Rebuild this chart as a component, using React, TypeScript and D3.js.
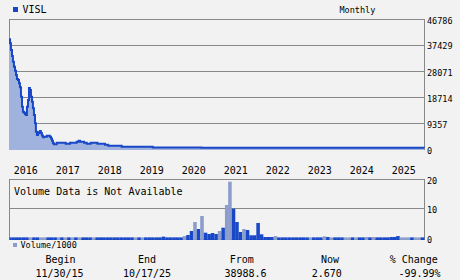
import React from 'react';
import * as d3 from 'd3';

// ---- data ----
const symbol = 'VISL';
const periodLabel = 'Monthly';
const startDateStr = '2015-11-30';
const endDateStr = '2025-10-17';

const priceDates = [
  '2015-11-30', '2015-12-09', '2015-12-17', '2015-12-26', '2016-01-03', '2016-01-12',
  '2016-01-21', '2016-01-30', '2016-02-07', '2016-02-16', '2016-02-25', '2016-03-04',
  '2016-03-13', '2016-03-22', '2016-03-30', '2016-04-08', '2016-04-17', '2016-04-25',
  '2016-05-04', '2016-05-13', '2016-05-22', '2016-05-30', '2016-06-08', '2016-06-17',
  '2016-06-25', '2016-07-04', '2016-07-13', '2016-07-21', '2016-07-30', '2016-08-08',
  '2016-08-16', '2016-08-25', '2016-09-02', '2016-09-11', '2016-09-20', '2016-09-28',
  '2016-10-24', '2016-11-19', '2016-11-29', '2016-12-08', '2016-12-16', '2016-12-25',
  '2017-01-18', '2017-04-06', '2017-05-14', '2017-07-11', '2017-07-28', '2017-08-09',
  '2017-09-13', '2017-10-06', '2017-11-10', '2018-01-07', '2018-03-14', '2018-04-11',
  '2018-08-06', '2019-05-03', '2020-06-30', '2022-06-30', '2025-10-17',
];
const priceValues = [
  38988.6, 37570, 35160, 33000, 30950, 29150,
  27710, 26160, 24720, 24370, 23180, 21740,
  18360, 14760, 12960, 12600, 12130, 11770,
  14760, 17170, 21490, 20770, 18360, 16560,
  14180, 11770, 8780, 5760, 4570, 5180,
  5540, 6010, 5290, 4390, 3740, 3960,
  4280, 3960, 3310, 2520, 1580, 1220,
  1800, 1400, 1800, 2160, 2520, 2120,
  1800, 1440, 1800, 1400, 1080, 720,
  360, 40, 20, 8, 2.67,
];

const priceTicks = [0, 9357, 18714, 28071, 37429, 46786];
const priceTickLabels = ['0', '9357', '18714', '28071', '37429', '46786'];
const yearTicks = [2016, 2017, 2018, 2019, 2020, 2021, 2022, 2023, 2024, 2025];

// monthly volume (thousands), first month = Nov 2015
const volStartYear = 2015;
const volStartMonth = 10; // November (0-based)
const volValues = [
  0.05, 0.05, 0.05, 0.05, 0.05, 0.05, 0.05, 0.05, 0.05, 0.05, 0.05, 0.05,
  0.05, 0.05, 0.05, 0.05, 0.05, 0.05, 0.05, 0.05, 0.05, 0.05, 0.05, 0.05,
  0.05, 0.05, 0.05, 0.05, 0.05, 0.05, 0.05, 0.05, 0.05, 0.05, 0.05, 0.05,
  0.05, 0.05, 0.05, 0.05, 0.05, 0.05, 0.05, 0.05, 0.3, 0.05, 0.05, 0.05,
  0.05, 0.05, 0.5, 0.86, 2.24, 5.34, 2.93, 7.41, 1.66, 1.2, 1.55, 1.2,
  2.24, 3.38, 11.2, 19.24, 9.93, 5.34, 1.9, 2.93, 2.59, 0.76, 0.76, 5.0,
  1.1, 0.17, 0.17, 0.17, 0.5, 0.05, 0.05, 0.05, 0.05, 0.05, 0.05, 0.05,
  0.05, 0.05, 0.05, 0.05, 0.05, 0.05, 0.4, 0.17, 0.05, 0.05, 0.05, 0.05,
  0.05, 0.05, 0.05, 0.05, 0.05, 0.05, 0.17, 0.05, 0.17, 0.05, 0.05, 0.05,
  0.05, 0.17, 0.17, 0.5, 0.05, 0.05, 0.05, 0.05, 0.05, 0.05, 0.05, 0.05,
];
// 1 = light bar, 0 = dark bar
const volLight = [
  0, 0, 0, 0, 0, 0, 1, 0, 0, 1, 1, 0,
  0, 0, 1, 0, 1, 0, 1, 0, 1, 0, 0, 0,
  1, 0, 0, 0, 0, 0, 0, 0, 0, 0, 0, 0,
  1, 0, 1, 0, 0, 0, 0, 0, 0, 0, 0, 0,
  0, 0, 1, 0, 0, 1, 0, 1, 0, 0, 0, 0,
  1, 0, 1, 1, 0, 0, 0, 1, 0, 0, 0, 0,
  0, 0, 0, 0, 1, 0, 0, 0, 0, 0, 0, 0,
  0, 0, 1, 0, 0, 0, 1, 0, 1, 0, 0, 0,
  1, 1, 0, 1, 0, 0, 1, 0, 1, 0, 0, 0,
  0, 0, 0, 0, 1, 1, 1, 0, 1, 1, 0, 0,
];
const volTicks = [0, 10, 20];
const volumeNote = 'Volume Data is Not Available';
const volumeLegend = 'Volume/1000';

const statLabels = ['Begin', 'End', 'From', 'Now', '% Change'];
const statValues = ['11/30/15', '10/17/25', '38988.6', '2.670', '-99.99%'];

// ---- styles ----
const FONT = "'DejaVu Sans Mono', monospace";
const BG = '#f2f2f2';
const GRID = '#888888';
const LINE = '#1848c8';
const FILL = '#a0b2de';
const DARK_BAR = '#1848c8';
const LIGHT_BAR = '#8b9dcb';

export default function App() {
  const W = 460;
  const H = 280;
  const left = 9.5;
  const right = 424.5;
  const parse = d3.timeParse('%Y-%m-%d');
  const start = parse(startDateStr) as Date;
  const end = parse(endDateStr) as Date;

  const x = d3.scaleTime().domain([start, end]).range([9, 424]);
  const y = d3.scaleLinear().domain([0, priceTicks[priceTicks.length - 1]]).range([149.5, 19.5]);
  const yv = d3.scaleLinear().domain([0, 20]).range([237.5, 179.5]);
  const lineOffset = -1.8;

  const priceData = priceDates.map((d, i) => ({ date: parse(d) as Date, value: priceValues[i] }));

  const line = d3
    .line<{ date: Date; value: number }>()
    .x((d) => x(d.date))
    .y((d) => y(d.value) + lineOffset)
    .curve(d3.curveStepAfter);
  const area = d3
    .area<{ date: Date; value: number }>()
    .x((d) => x(d.date))
    .y0(150)
    .y1((d) => y(d.value) + lineOffset)
    .curve(d3.curveStepAfter);

  const monthW = x(new Date(2016, 0, 31)) - x(new Date(2016, 0, 0));
  const bars = volValues.map((v, i) => {
    const monthEnd = new Date(volStartYear, volStartMonth + i + 1, 0);
    const cx = x(monthEnd) + 0.5;
    const top = Math.min(yv(v), 238);
    return { x0: cx - monthW / 2, w: monthW, top, light: volLight[i] === 1 };
  });

  const statHeadX = [60.5, 147, 241.7, 330, 413.8];
  const statValX = [59.5, 147, 245.5, 326.7, 419.5];

  return (
    <svg
      width={W}
      height={H}
      style={{ position: 'absolute', left: 0, top: 0, display: 'block' }}
      fontFamily={FONT}
    >
      <defs>
        <clipPath id="volClip">
          <rect x={left} y={170} width={right - left} height={80} />
        </clipPath>
      </defs>
      <rect x={0} y={0} width={W} height={H} fill={BG} />

      {/* title */}
      <rect x={13} y={7} width={5} height={5} fill={LINE} />
      <text x={22.5} y={12.5} fontSize={10} fill="#000">{symbol}</text>
      <text x={339.5} y={12.5} fontSize={8.5} fill="#000">{periodLabel}</text>

      {/* price panel grid */}
      {priceTicks.map((t, i) => (
        <g key={'pt' + i}>
          {i > 0 && i < priceTicks.length - 1 && (
            <line x1={left} x2={right} y1={y(t)} y2={y(t)} stroke={GRID} strokeWidth={1} />
          )}
          <text x={427} y={y(t) + 4} fontSize={8.5} fill="#000">{priceTickLabels[i]}</text>
        </g>
      ))}
      <rect x={left} y={19.5} width={right - left} height={130} fill="none" stroke={GRID} strokeWidth={1} />

      <path d={area(priceData) || ''} fill={FILL} />
      <path d={line(priceData) || ''} fill="none" stroke={LINE} strokeWidth={2} />

      {/* year labels */}
      {yearTicks.map((yr) => (
        <text key={yr} x={x(new Date(yr, 0, 1)) + 1} y={174} fontSize={10} fill="#000">
          {yr}
        </text>
      ))}

      {/* volume panel */}
      <line x1={left} x2={right} y1={yv(10)} y2={yv(10)} stroke={GRID} strokeWidth={1} />
      <rect x={left} y={179.5} width={right - left} height={60} fill="none" stroke={GRID} strokeWidth={1} />
      <text x={14} y={195} fontSize={10} fill="#000">{volumeNote}</text>
      <g clipPath="url(#volClip)">
        {bars.map((b, i) => (
          <rect key={i} x={b.x0} y={b.top} width={b.w} height={240 - b.top} fill={b.light ? LIGHT_BAR : DARK_BAR} />
        ))}
      </g>
      {volTicks.map((t) => (
        <text key={'vt' + t} x={427} y={yv(t) + (t === 0 ? 5 : 4)} fontSize={8.5} fill="#000">
          {t}
        </text>
      ))}
      <rect x={13} y={243} width={4} height={4} fill={LIGHT_BAR} />
      <text x={20.5} y={247.5} fontSize={8.5} fill="#000">{volumeLegend}</text>

      {/* stats */}
      {statLabels.map((s, i) => (
        <text key={'sl' + i} x={statHeadX[i]} y={263} fontSize={10} textAnchor="middle" fill="#000">
          {s}
        </text>
      ))}
      {statValues.map((s, i) => (
        <text key={'sv' + i} x={statValX[i]} y={276.5} fontSize={10} textAnchor="middle" fill="#000">
          {s}
        </text>
      ))}
    </svg>
  );
}
